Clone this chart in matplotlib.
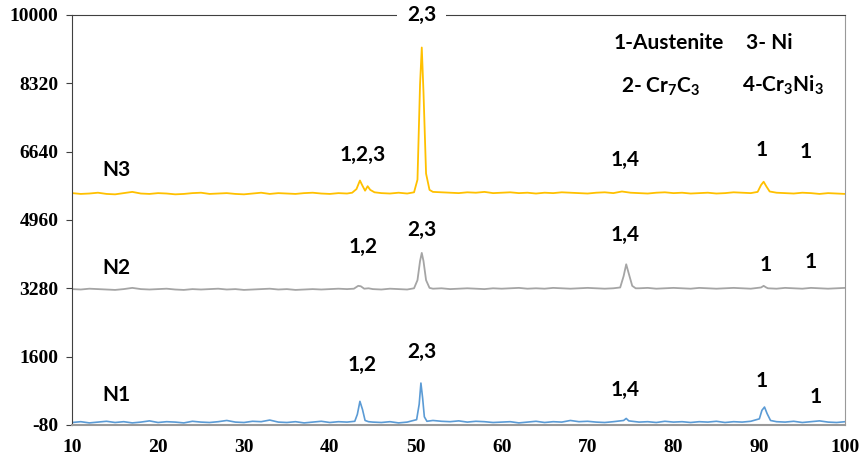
import matplotlib
matplotlib.use("Agg")
import matplotlib.pyplot as plt

plt.rcParams['mathtext.fontset'] = 'custom'
plt.rcParams['mathtext.rm'] = 'Lato:bold'
plt.rcParams['mathtext.it'] = 'Lato:bold'
plt.rcParams['mathtext.bf'] = 'Lato:bold'

# N3 (orange)
n3_x = [*range(10, 43), 42.6, 43.1, 43.5, 43.8, 44.1, 44.4, 44.7, 45.2, *range(46, 50),
        49.8, 50.2, 50.5, 50.7, 50.9, 51.2, 51.6, *range(52, 90),
        89.8, 90.2, 90.5, 90.8, 91.2, *range(92, 101)]
n3_y = [5620, 5600, 5610, 5630, 5600, 5590, 5620, 5650, 5610, 5600,
        5620, 5610, 5590, 5600, 5620, 5630, 5600, 5610, 5620, 5600,
        5590, 5610, 5630, 5600, 5620, 5610, 5600, 5620, 5630, 5610,
        5600, 5620, 5610,
        5630, 5720, 5930, 5800, 5680, 5790, 5700, 5640,
        5620, 5610, 5630, 5610,
        5640, 5950, 8300, 9200, 8100, 6100, 5700,
        5650, 5640, 5630, 5620, 5640, 5630, 5650, 5620, 5630, 5640,
        5620, 5630, 5610, 5630, 5620, 5640, 5630, 5620, 5610, 5630,
        5640, 5620, 5660, 5630, 5620, 5610, 5630, 5640, 5620, 5630,
        5610, 5620, 5630, 5610, 5620, 5640, 5630, 5620,
        5650, 5820, 5900, 5790, 5660,
        5630, 5620, 5610, 5630, 5620, 5600, 5620, 5610, 5600]

# N2 (gray)
n2_x = [*range(10, 43), 42.8, 43.3, 43.6, 44.0, 44.5, *range(45, 50),
        49.8, 50.2, 50.5, 50.7, 50.9, 51.2, 51.6, *range(52, 74),
        73.8, 74.2, 74.5, 74.8, 75.2, 75.6, *range(76, 90),
        90.2, 90.5, 90.8, *range(91, 101)]
n2_y = [3260, 3250, 3270, 3260, 3250, 3240, 3260, 3290, 3260, 3250,
        3260, 3270, 3250, 3240, 3260, 3250, 3260, 3270, 3250, 3260,
        3240, 3250, 3260, 3270, 3250, 3260, 3240, 3250, 3260, 3250,
        3260, 3270, 3260,
        3270, 3340, 3330, 3270, 3280,
        3260, 3250, 3270, 3260, 3250,
        3280, 3480, 3950, 4150, 3950, 3480, 3290,
        3270, 3280, 3260, 3270, 3280, 3270, 3260, 3280, 3270, 3280,
        3290, 3270, 3280, 3270, 3290, 3280, 3270, 3280, 3290, 3280,
        3270, 3280,
        3300, 3580, 3870, 3640, 3340, 3280,
        3280, 3290, 3270, 3280, 3290, 3280, 3270, 3290, 3280, 3270,
        3280, 3290, 3280, 3270,
        3300, 3340, 3300,
        3280, 3270, 3290, 3280, 3270, 3290, 3280, 3270, 3280, 3290]

# N1 (blue)
n1_x = [*range(10, 43), 42.9, 43.2, 43.5, 43.8, 44.1, 44.5, *range(45, 50),
        50.1, 50.4, 50.6, 50.8, 51.0, 51.3, *range(52, 74),
        74.2, 74.5, 74.8, *range(76, 90),
        90.0, 90.3, 90.6, 90.9, 91.3, *range(92, 101)]
n1_y = [-20, 0, -30, -10, 10, -20, 0, -30, -10, 20,
        -20, 0, -10, -30, 10, -10, -20, 0, 30, -10,
        -20, 10, 0, 40, -10, -20, 0, -30, -10, 10,
        -20, 0, -10,
        10, 180, 500, 300, 30, 0,
        -10, -20, 0, -30, -10,
        50, 430, 950, 580, 120, 10,
        30, 10, 0, 20, -10, 10, 0, -20, -10, 0,
        -30, -10, 10, -20, 0, -10, 30, 0, 10, -10,
        -20, 0,
        30, 80, 20,
        -10, 0, -20, 10, -10, 0, -20, 0, -10, 10,
        -20, 0, -10, 10,
        70, 280, 360, 200, 30,
        0, -10, 10, -20, 0, 20, -10, -20, 0]

y_ticks = [-80, 1600, 3280, 4960, 6640, 8320, 10000]
y_tick_labels = ['-80', '1600', '3280', '4960', '6640', '8320', '10000']
x_ticks = [10, 20, 30, 40, 50, 60, 70, 80, 90, 100]

# peak labels: (text, x, y)
peak_labels = [
    ("N3", 15.2, 6190), ("1,2,3", 43.8, 6560), ("1,4", 74.4, 6440),
    ("1", 90.3, 6680), ("1", 95.4, 6630),
    ("N2", 15.2, 3780), ("1,2", 43.9, 4300), ("2,3", 50.7, 4715),
    ("1,4", 74.4, 4590), ("1", 90.7, 3855), ("1", 96.0, 3930),
    ("N1", 15.2, 660), ("1,2", 43.8, 1395), ("2,3", 50.7, 1715),
    ("1,4", 74.4, 780), ("1", 90.3, 1000), ("1", 96.6, 610),
]
legend_labels = [
    ("1-Austenite", 79.5, 9310), ("3- Ni", 91.1, 9310),
    ("2- Cr$_7$C$_3$", 78.5, 8230), ("4-Cr$_3$Ni$_3$", 92.8, 8280),
]

fig = plt.figure(figsize=(8.59, 4.68), dpi=100)
ax = fig.add_axes([0.084, 0.092, 0.9, 0.876])

ax.plot(n3_x, n3_y, color='#FFC000', lw=1.3)
ax.plot(n2_x, n2_y, color='#A5A5A5', lw=1.3)
ax.plot(n1_x, n1_y, color='#5B9BD5', lw=1.2)

ax.set_xlim(10, 100)
ax.set_ylim(-80, 10000)
ax.set_xticks(x_ticks)
ax.set_yticks(y_ticks)
ax.set_yticklabels(y_tick_labels)
for lab in ax.get_xticklabels() + ax.get_yticklabels():
    lab.set_fontfamily('Liberation Serif')
    lab.set_fontweight('bold')
    lab.set_fontsize(14)
ax.tick_params(axis='x', length=0, pad=10)
ax.tick_params(axis='y', length=4, direction='out', color='#404040', pad=6)

ax.spines['left'].set_color('#404040')
ax.spines['top'].set_color('#404040')
ax.spines['bottom'].set_color('#999999')
ax.spines['right'].set_color('#999999')
ax.spines['bottom'].set_linewidth(1.5)

for txt, x, y in peak_labels:
    ax.text(x, y, txt, ha='center', va='center', fontsize=15,
            fontfamily='Lato', fontweight='bold')
for txt, x, y in legend_labels:
    ax.text(x, y, txt, ha='center', va='center', fontsize=15,
            fontfamily='Lato', fontweight='bold')

ax.text(50.7, 10000, "2,3", ha='center', va='center', fontsize=15,
        fontfamily='Lato', fontweight='bold', clip_on=False, zorder=5,
        bbox=dict(facecolor='white', edgecolor='none', pad=7))

fig.savefig('out.png', dpi=100)
